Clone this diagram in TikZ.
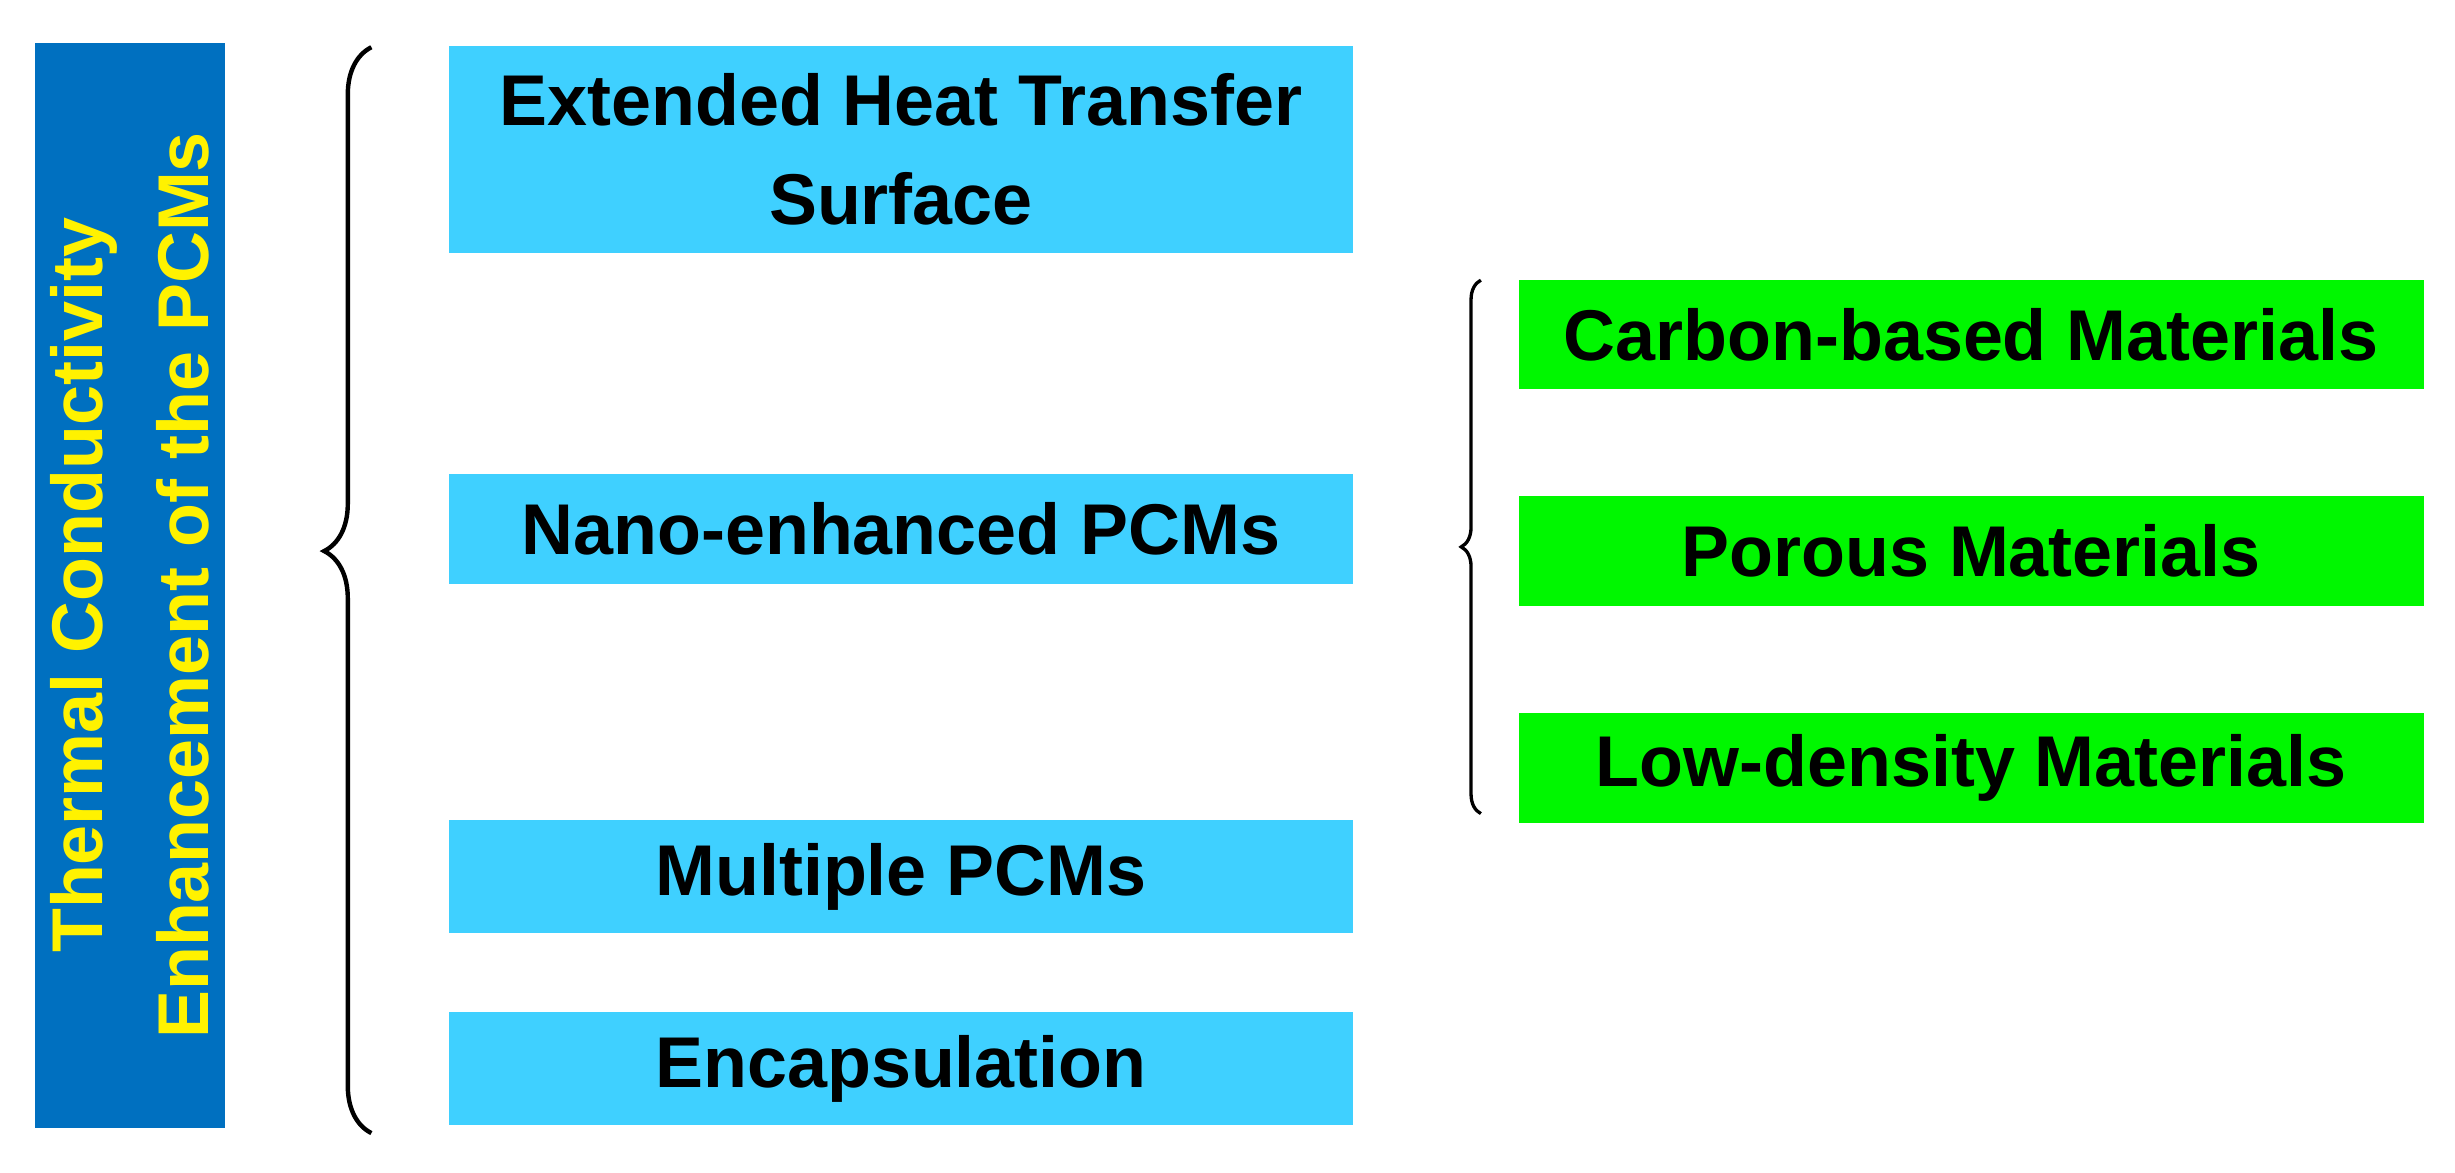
\documentclass[tikz,border=0pt]{standalone}
\usepackage{fontspec}
\setmainfont{Liberation Sans}
\usetikzlibrary{decorations.pathreplacing}
\definecolor{barblue}{HTML}{0070C0}
\definecolor{lblue}{HTML}{3FD0FF}
\definecolor{lgreen}{HTML}{00F700}
\begin{document}
\begin{tikzpicture}[x=0.02cm,y=-0.02cm,
 box/.style={inner sep=0pt,align=center,font=\fontsize{26}{36}\selectfont\bfseries},
 br/.style={decorate,line width=1.6pt}]
\useasboundingbox (0,0) rectangle (1560,745);
\fill[barblue] (22,27) rectangle (143,717);
\node[rotate=90,text=yellow,align=center,font=\fontsize{26}{38}\selectfont\bfseries] (bar) at (82.5,372) {Thermal Conductivity\\Enhancement of the PCMs};
\foreach \n/\a/\b/\t in {b1/29/161/{Extended Heat Transfer\\Surface},b2/301/371/{Nano-enhanced PCMs},b3/521/593/{Multiple PCMs},b4/643/715/{Encapsulation}}{
  \fill[lblue] (285,\a) rectangle (860,\b);
  \node[box] (\n) at (572.5,{(\a+\b)/2}) {\t};}
\foreach \n/\a/\b/\t in {g1/178/247/{Carbon-based Materials},g2/315/385/{Porous Materials},g3/453/523/{Low-density Materials}}{
  \fill[lgreen] (965,\a) rectangle (1540,\b);
  \node[box] (\n) at (1252.5,{(\a+\b)/2}) {\t};}
\coordinate (s1) at (236,720); \coordinate (e1) at (236,30);
\draw[br,decoration={brace,amplitude=0.6cm,aspect=0.536}] (s1) -- (e1);
\coordinate (s2) at (941,517); \coordinate (e2) at (941,178);
\draw[br,line width=1.2pt,decoration={brace,amplitude=0.25cm,aspect=0.5}] (s2) -- (e2);
\end{tikzpicture}
\end{document}
